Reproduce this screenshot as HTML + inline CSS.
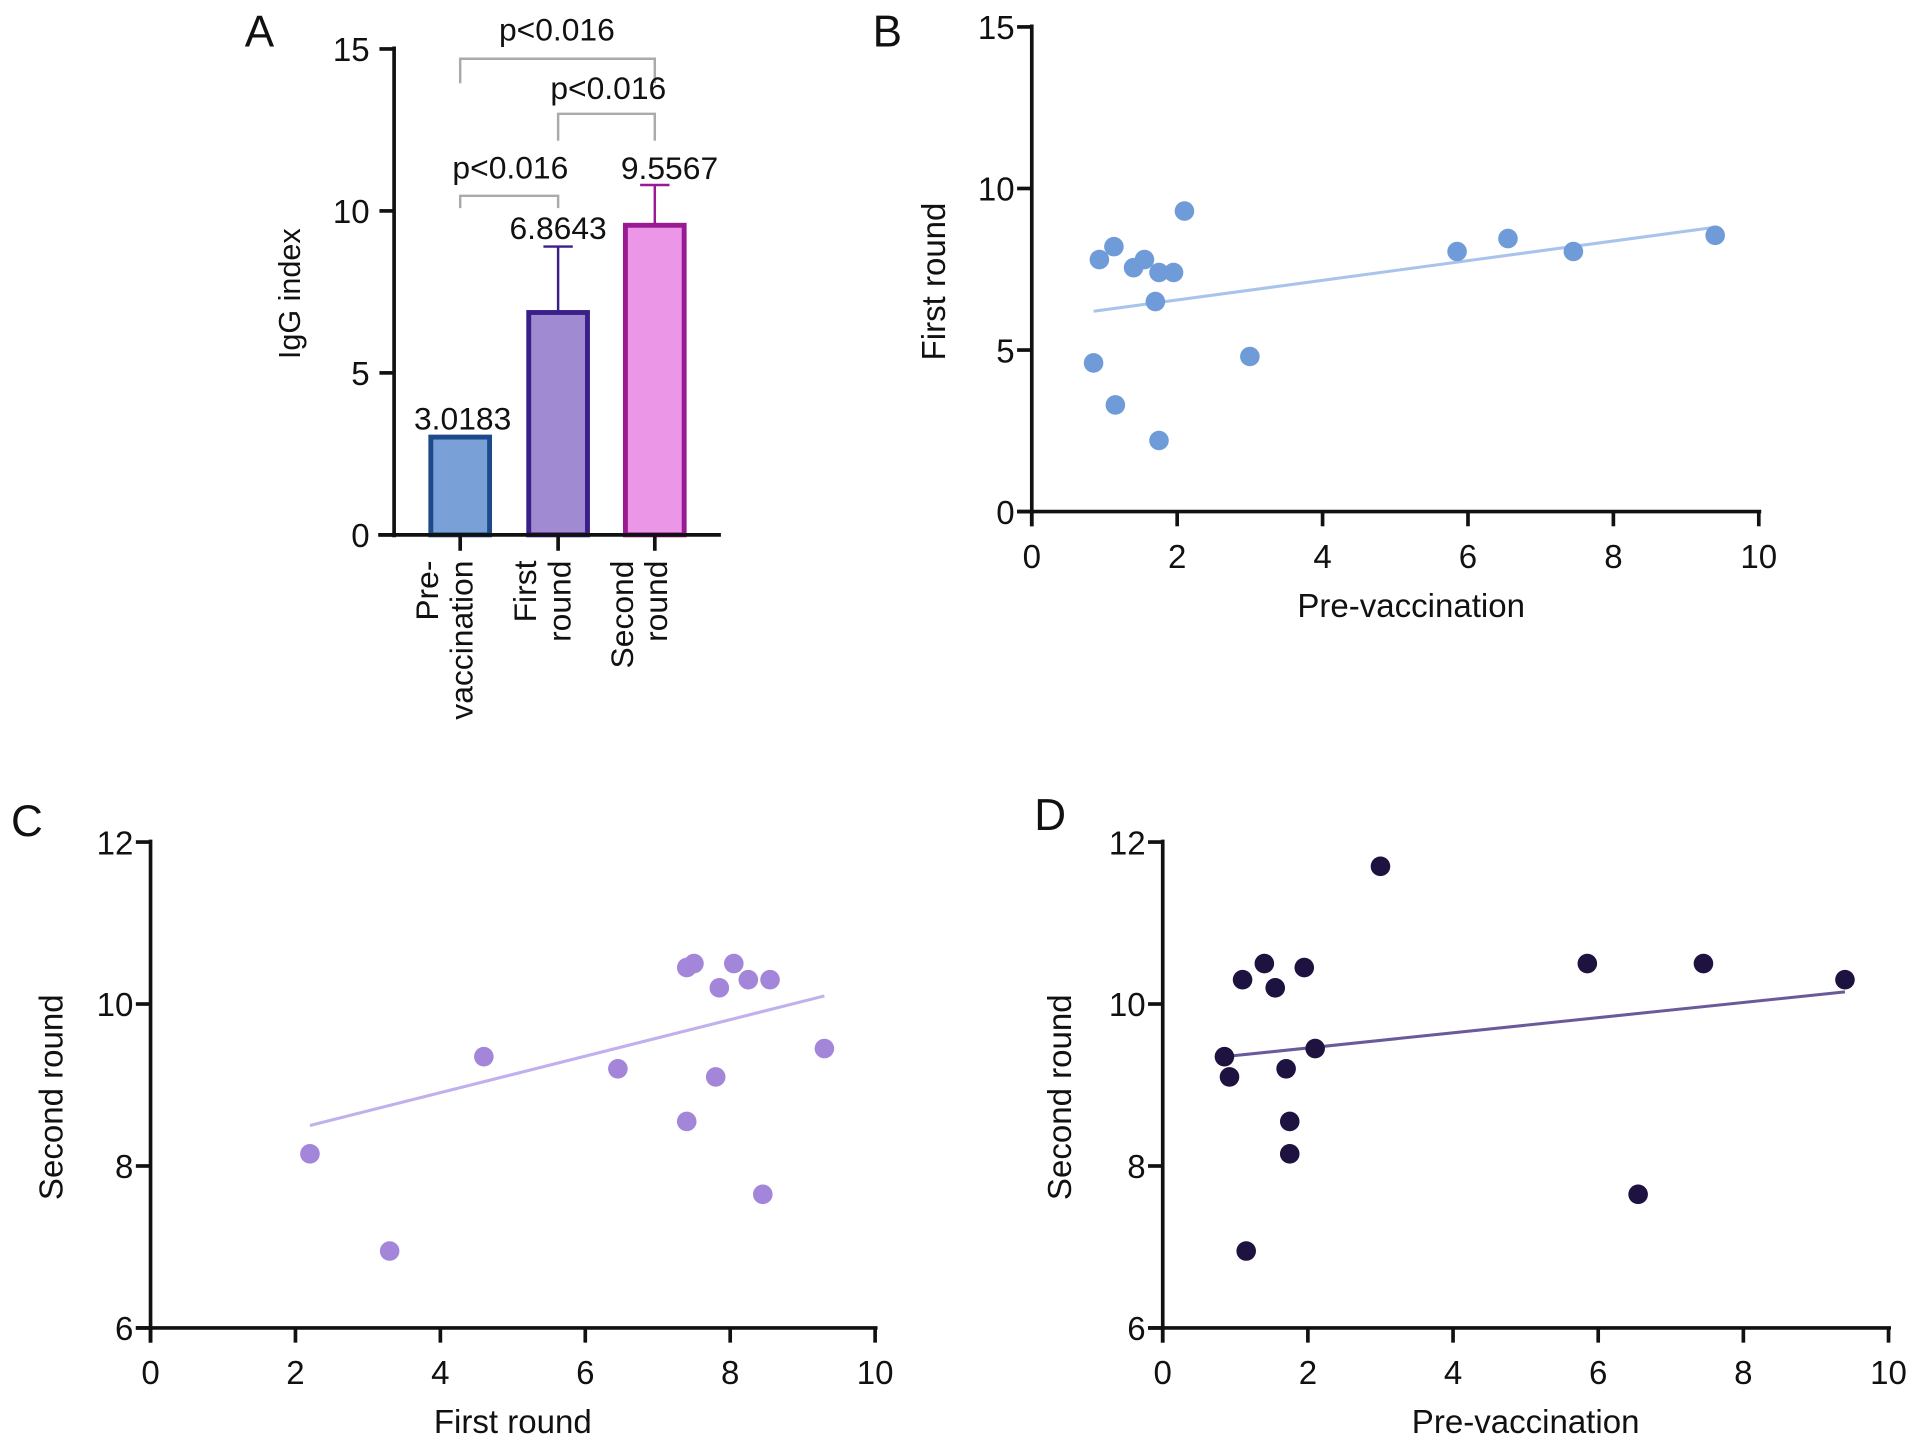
<!DOCTYPE html>
<html><head><meta charset="utf-8"><style>
html,body{margin:0;padding:0;background:#fff}
svg{display:block}
text{font-family:"Liberation Sans",Arial,sans-serif;fill:#111}
</style></head><body>
<svg id="fig" width="1913" height="1443" viewBox="0 0 1563 1179" preserveAspectRatio="none" xmlns="http://www.w3.org/2000/svg"></svg>
<script>
// Panel A data
const barCats = ["Pre-vaccination","First round","Second round"];
const barVals = [3.0183, 6.8643, 9.5567];
const barErr = [8.9, 10.8];
const barLabels = ["3.0183","6.8643","9.5567"];
const aTicks = [0,5,10,15];
// Panel B
const bX = [0.85,0.93,1.13,1.4,1.55,1.7,1.75,1.95,2.1,3.0,1.15,1.75,5.85,6.55,7.45,9.4];
const bY = [4.6,7.8,8.2,7.55,7.8,6.5,7.4,7.4,9.3,4.8,3.3,2.2,8.05,8.45,8.05,8.55];
const bFit = [[0.85,6.2],[9.4,8.8]];
// Panel C
const cX = [2.2,3.3,4.6,6.45,7.4,7.4,7.5,7.8,7.85,8.05,8.25,8.45,8.55,9.3];
const cY = [8.15,6.95,9.35,9.2,8.55,10.45,10.5,9.1,10.2,10.5,10.3,7.65,10.3,9.45];
const cFit = [[2.2,8.5],[9.3,10.1]];
// Panel D
const dX = [0.85,0.92,1.1,1.15,1.4,1.55,1.7,1.75,1.75,1.95,2.1,3.0,5.85,6.55,7.45,9.4];
const dY = [9.35,9.1,10.3,6.95,10.5,10.2,9.2,8.55,8.15,10.45,9.45,11.7,10.5,7.65,10.5,10.3];
const dFit = [[0.85,9.35],[9.4,10.15]];
const xTicks = [0,2,4,6,8,10];
const bYTicks = [0,5,10,15];
const cdYTicks = [6,8,10,12];

const svg = document.getElementById('fig');
const NS = "http://www.w3.org/2000/svg";
function el(tag, attrs, parent, txt){
  const e = document.createElementNS(NS, tag);
  for (const k in attrs) e.setAttribute(k, attrs[k]);
  if (txt !== undefined) e.textContent = txt;
  (parent||svg).appendChild(e);
  return e;
}
function lin(d0,d1,r0,r1){return v => r0 + (v-d0)/(d1-d0)*(r1-r0);}

// ---------- Panel A ----------
const gA = el('g',{});


const ay = lin(0,15,437,40);
const barCx = [376,456,535];
const fills = ["#7aa0d8","#a08ad2","#ec96e8"];
const strokes = ["#1d4a8a","#3a1f8a","#9a1a94"];
let t = el('text',{x:212,y:38,'font-size':36,'text-anchor':'middle'},gA,'A');
 
barVals.forEach((v,i)=>{
  if(i>0){
    const e1 = el('line',{x1:barCx[i],x2:barCx[i],y1:ay(v),y2:ay(barErr[i-1]),stroke:strokes[i],'stroke-width':2},gA);
     
    el('line',{x1:barCx[i]-12,x2:barCx[i]+12,y1:ay(barErr[i-1]),y2:ay(barErr[i-1]),stroke:strokes[i],'stroke-width':2},gA);
  }
  const r = el('rect',{x:barCx[i]-24,y:ay(v),width:48,height:ay(0)-ay(v),fill:fills[i],stroke:strokes[i],'stroke-width':4},gA);
   
  const lx = [378,456,547][i];
  const ly = i===0 ? ay(v)-6 : (i===1 ? ay(barErr[0])-6 : ay(barErr[1])-5);
  const lt = el('text',{x:lx,y:ly,'font-size':26,'text-anchor':'middle'},gA,barLabels[i]);
   
  el('line',{x1:barCx[i],x2:barCx[i],y1:437,y2:450,stroke:'#111','stroke-width':3},gA);
});
el('line',{x1:322,x2:322,y1:38,y2:439,stroke:'#111','stroke-width':3},gA);
el('line',{x1:309,x2:589,y1:437,y2:437,stroke:'#111','stroke-width':3},gA);
aTicks.forEach(v=>{
  el('line',{x1:310,x2:322,y1:ay(v),y2:ay(v),stroke:'#111','stroke-width':3},gA);
  const tt = el('text',{x:302,y:ay(v)+10,'font-size':27,'text-anchor':'end'},gA,String(v));
   
});
t = el('text',{transform:'translate(245,240) rotate(-90)','font-size':25,'text-anchor':'middle'},gA,'IgG index');
 
const catLines = [["Pre-","vaccination"],["First","round"],["Second","round"]];
catLines.forEach((ls,i)=>{
  ls.forEach((s,j)=>{
    const ct = el('text',{transform:`translate(${barCx[i]-5+j*28-13},458) rotate(-90)`,'font-size':26,'text-anchor':'end'},gA,s);
     
  });
});
// significance brackets
const brk = [[0,2,48,68,68,455,33],[1,2,93,115,115,497,81],[0,1,160,170,170,417,146]];
brk.forEach(b=>{
  const p = el('path',{d:`M${barCx[b[0]]},${b[3]} V${b[2]} H${barCx[b[1]]} V${b[4]}`,fill:'none',stroke:'#aaa','stroke-width':2},gA);
   
  const st = el('text',{x:b[5],y:b[6],'font-size':26,'text-anchor':'middle'},gA,'p<0.016');
   
});

// ---------- Scatter panels ----------
function scatter(cfg){
  const g = el('g',{});
  
  
  const sx = lin(0,10,cfg.x0,cfg.x10);
  const sy = lin(cfg.yt[0],cfg.yt[cfg.yt.length-1],cfg.yb,cfg.ytop);
  const L = el('text',{x:cfg.lx,y:cfg.ly,'font-size':36,'text-anchor':'middle'},g,cfg.letter);
   
  el('line',{x1:cfg.x0,x2:cfg.x0,y1:cfg.ytop-2,y2:cfg.yb+12,stroke:'#111','stroke-width':3},g);
  el('line',{x1:cfg.x0-12,x2:cfg.x10+2,y1:cfg.yb,y2:cfg.yb,stroke:'#111','stroke-width':3},g);
  xTicks.forEach(v=>{
    el('line',{x1:sx(v),x2:sx(v),y1:cfg.yb,y2:cfg.yb+12,stroke:'#111','stroke-width':3},g);
    const tt = el('text',{x:sx(v),y:cfg.yb+46,'font-size':27,'text-anchor':'middle'},g,String(v));
     
  });
  cfg.yt.forEach(v=>{
    el('line',{x1:cfg.x0-12,x2:cfg.x0,y1:sy(v),y2:sy(v),stroke:'#111','stroke-width':3},g);
    const tt = el('text',{x:cfg.x0-14,y:sy(v)+10,'font-size':27,'text-anchor':'end'},g,String(v));
     
  });
  const xt = el('text',{x:(cfg.x0+cfg.x10)/2+cfg.xtOff,y:cfg.yb+86,'font-size':27,'text-anchor':'middle'},g,cfg.xtitle);
   
  const yt = el('text',{transform:`translate(${cfg.ytx},${(cfg.yb+cfg.ytop)/2+10}) rotate(-90)`,'font-size':27,'text-anchor':'middle'},g,cfg.ytitle);
   
  const fl = el('line',{x1:sx(cfg.fit[0][0]),y1:sy(cfg.fit[0][1]),x2:sx(cfg.fit[1][0]),y2:sy(cfg.fit[1][1]),stroke:cfg.lineColor,'stroke-width':2.5},g);
   
  cfg.xs.forEach((x,i)=>{
    const c = el('circle',{cx:sx(x),cy:sy(cfg.ys[i]),r:8,fill:cfg.dot},g);
    
    
  });
}
scatter({name:'panel-b-scatter',letter:'B',lx:725,ly:38,x0:843,x10:1437,yb:418,ytop:22,yt:bYTicks,xtOff:13,
  xs:bX,ys:bY,fit:bFit,dot:'#6f9bd8',lineColor:'#a9c4ea',xtitle:'Pre-vaccination',ytitle:'First round',ytx:772});
scatter({name:'panel-c-scatter',letter:'C',lx:22,ly:683,x0:123,x10:715,yb:1085,ytop:688,yt:cdYTicks,xtOff:0,
  xs:cX,ys:cY,fit:cFit,dot:'#a386d9',lineColor:'#c0b0ec',xtitle:'First round',ytitle:'Second round',ytx:51});
scatter({name:'panel-d-scatter',letter:'D',lx:858,ly:678,x0:950,x10:1543,yb:1085,ytop:688,yt:cdYTicks,xtOff:0,
  xs:dX,ys:dY,fit:dFit,dot:'#1e1240',lineColor:'#6a5a9a',xtitle:'Pre-vaccination',ytitle:'Second round',ytx:875});
</script>
</body></html>
